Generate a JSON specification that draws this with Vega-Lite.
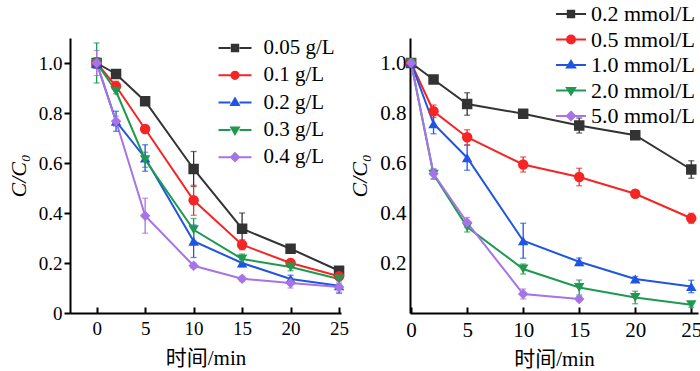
{
  "$schema": "https://vega.github.io/schema/vega-lite/v6.json",
  "background": "white",
  "padding": {"left": 7, "top": 3, "right": 0, "bottom": 0},
  "bounds": "flush",
  "spacing": 69,
  "config": {
    "view": {"stroke": null},
    "font": "Liberation Serif",
    "axis": {
      "grid": false,
      "domainColor": "#000000",
      "domainWidth": 2,
      "tickColor": "#000000",
      "tickWidth": 2,
      "labelColor": "#000000",
      "titleColor": "#000000",
      "labelFont": "Liberation Serif",
      "titleFont": "Liberation Serif, Noto Sans CJK SC",
      "titleFontWeight": "normal"
    },
    "legend": {
      "labelFont": "Liberation Serif",
      "labelColor": "#000000",
      "padding": 0,
      "title": null
    }
  },
  "datasets": {
    "a": [
      {"t": 0, "v": 1.0, "e": 0.01, "s": "0.05 g/L"},
      {"t": 2, "v": 0.956, "e": 0.01, "s": "0.05 g/L"},
      {"t": 5, "v": 0.847, "e": 0.01, "s": "0.05 g/L"},
      {"t": 10, "v": 0.576, "e": 0.07, "s": "0.05 g/L"},
      {"t": 15, "v": 0.337, "e": 0.063, "s": "0.05 g/L"},
      {"t": 20, "v": 0.257, "e": 0.01, "s": "0.05 g/L"},
      {"t": 25, "v": 0.169, "e": 0.01, "s": "0.05 g/L"},
      {"t": 0, "v": 1.0, "e": 0.02, "s": "0.1 g/L"},
      {"t": 2, "v": 0.907, "e": 0.02, "s": "0.1 g/L"},
      {"t": 5, "v": 0.736, "e": 0.015, "s": "0.1 g/L"},
      {"t": 10, "v": 0.451, "e": 0.06, "s": "0.1 g/L"},
      {"t": 15, "v": 0.273, "e": 0.02, "s": "0.1 g/L"},
      {"t": 20, "v": 0.2, "e": 0.015, "s": "0.1 g/L"},
      {"t": 25, "v": 0.147, "e": 0.01, "s": "0.1 g/L"},
      {"t": 0, "v": 1.0, "e": 0.02, "s": "0.2 g/L"},
      {"t": 2, "v": 0.767, "e": 0.04, "s": "0.2 g/L"},
      {"t": 5, "v": 0.62, "e": 0.053, "s": "0.2 g/L"},
      {"t": 10, "v": 0.287, "e": 0.065, "s": "0.2 g/L"},
      {"t": 15, "v": 0.2, "e": 0.015, "s": "0.2 g/L"},
      {"t": 20, "v": 0.136, "e": 0.015, "s": "0.2 g/L"},
      {"t": 25, "v": 0.109, "e": 0.03, "s": "0.2 g/L"},
      {"t": 0, "v": 1.0, "e": 0.08, "s": "0.3 g/L"},
      {"t": 2, "v": 0.887, "e": 0.01, "s": "0.3 g/L"},
      {"t": 5, "v": 0.613, "e": 0.03, "s": "0.3 g/L"},
      {"t": 10, "v": 0.333, "e": 0.045, "s": "0.3 g/L"},
      {"t": 15, "v": 0.216, "e": 0.02, "s": "0.3 g/L"},
      {"t": 20, "v": 0.184, "e": 0.015, "s": "0.3 g/L"},
      {"t": 25, "v": 0.136, "e": 0.02, "s": "0.3 g/L"},
      {"t": 0, "v": 1.0, "e": 0.05, "s": "0.4 g/L"},
      {"t": 2, "v": 0.767, "e": 0.02, "s": "0.4 g/L"},
      {"t": 5, "v": 0.389, "e": 0.07, "s": "0.4 g/L"},
      {"t": 10, "v": 0.189, "e": 0.01, "s": "0.4 g/L"},
      {"t": 15, "v": 0.137, "e": 0.01, "s": "0.4 g/L"},
      {"t": 20, "v": 0.12, "e": 0.02, "s": "0.4 g/L"},
      {"t": 25, "v": 0.104, "e": 0.02, "s": "0.4 g/L"}
    ],
    "b": [
      {"t": 0, "v": 1.0, "e": 0.01, "s": "0.2 mmol/L"},
      {"t": 2, "v": 0.934, "e": 0.015, "s": "0.2 mmol/L"},
      {"t": 5, "v": 0.836, "e": 0.045, "s": "0.2 mmol/L"},
      {"t": 10, "v": 0.797, "e": 0.01, "s": "0.2 mmol/L"},
      {"t": 15, "v": 0.75, "e": 0.03, "s": "0.2 mmol/L"},
      {"t": 20, "v": 0.711, "e": 0.01, "s": "0.2 mmol/L"},
      {"t": 25, "v": 0.574, "e": 0.035, "s": "0.2 mmol/L"},
      {"t": 0, "v": 1.0, "e": 0.01, "s": "0.5 mmol/L"},
      {"t": 2, "v": 0.807, "e": 0.025, "s": "0.5 mmol/L"},
      {"t": 5, "v": 0.703, "e": 0.03, "s": "0.5 mmol/L"},
      {"t": 10, "v": 0.594, "e": 0.03, "s": "0.5 mmol/L"},
      {"t": 15, "v": 0.544, "e": 0.035, "s": "0.5 mmol/L"},
      {"t": 20, "v": 0.477, "e": 0.015, "s": "0.5 mmol/L"},
      {"t": 25, "v": 0.379, "e": 0.02, "s": "0.5 mmol/L"},
      {"t": 0, "v": 1.0, "e": 0.01, "s": "1.0 mmol/L"},
      {"t": 2, "v": 0.757, "e": 0.04, "s": "1.0 mmol/L"},
      {"t": 5, "v": 0.621, "e": 0.05, "s": "1.0 mmol/L"},
      {"t": 10, "v": 0.289, "e": 0.07, "s": "1.0 mmol/L"},
      {"t": 15, "v": 0.205, "e": 0.015, "s": "1.0 mmol/L"},
      {"t": 20, "v": 0.136, "e": 0.01, "s": "1.0 mmol/L"},
      {"t": 25, "v": 0.106, "e": 0.025, "s": "1.0 mmol/L"},
      {"t": 0, "v": 1.0, "e": 0.01, "s": "2.0 mmol/L"},
      {"t": 2, "v": 0.555, "e": 0.02, "s": "2.0 mmol/L"},
      {"t": 5, "v": 0.344, "e": 0.02, "s": "2.0 mmol/L"},
      {"t": 10, "v": 0.176, "e": 0.02, "s": "2.0 mmol/L"},
      {"t": 15, "v": 0.102, "e": 0.03, "s": "2.0 mmol/L"},
      {"t": 20, "v": 0.062, "e": 0.025, "s": "2.0 mmol/L"},
      {"t": 25, "v": 0.033, "e": 0.01, "s": "2.0 mmol/L"},
      {"t": 0, "v": 1.0, "e": 0.01, "s": "5.0 mmol/L"},
      {"t": 2, "v": 0.557, "e": 0.02, "s": "5.0 mmol/L"},
      {"t": 5, "v": 0.362, "e": 0.02, "s": "5.0 mmol/L"},
      {"t": 10, "v": 0.076, "e": 0.02, "s": "5.0 mmol/L"},
      {"t": 15, "v": 0.056, "e": 0.01, "s": "5.0 mmol/L"}
    ]
  },
  "resolve": {"scale": {"color": "independent", "shape": "independent", "fill": "independent", "stroke": "independent", "x": "independent", "y": "independent"}},
  "hconcat": [
    {
      "width": 271,
      "height": 275,
      "data": {"name": "a"},
      "encoding": {
        "x": {"field": "t", "type": "quantitative", "scale": {"domain": [-2.75, 25.2], "nice": false, "zero": false},
          "axis": {"values": [0, 5, 10, 15, 20, 25], "tickSize": -6, "labelFontSize": 19, "labelPadding": 12, "title": "时间/min", "titleFontSize": 21, "titlePadding": 9, "labelFlush": false}},
        "y": {"field": "v", "type": "quantitative", "scale": {"domain": [0, 1.1], "nice": false},
          "axis": {"values": [0, 0.2, 0.4, 0.6, 0.8, 1.0], "tickSize": 6, "labelFontSize": 19, "labelPadding": 2, "labelExpr": "datum.value == 0 ? '0' : format(datum.value, '.1f')", "title": "C/C₀", "titleFontStyle": "italic", "titleFontSize": 22, "titlePadding": 8, "labelFlush": false}}
      },
      "layer": [
        {
          "mark": {"type": "point", "filled": true, "size": 1, "strokeWidth": 2, "opacity": 1},
          "encoding": {
            "fill": {"field": "s", "type": "nominal",
              "scale": {"domain": ["0.05 g/L", "0.1 g/L", "0.2 g/L", "0.3 g/L", "0.4 g/L"], "range": ["#333333", "#f52525", "#1f55e0", "#1e9a50", "#a674e6"]},
              "legend": {"orient": "none", "legendX": 154, "legendY": -1, "labelFontSize": 21, "labelOffset": 17.5, "rowPadding": 6.3, "symbolSize": 400, "symbolStrokeWidth": 2}},
            "stroke": {"field": "s", "type": "nominal",
              "scale": {"domain": ["0.05 g/L", "0.1 g/L", "0.2 g/L", "0.3 g/L", "0.4 g/L"], "range": ["#333333", "#f52525", "#1f55e0", "#1e9a50", "#a674e6"]},
              "legend": {"orient": "none", "legendX": 154, "legendY": -1, "labelFontSize": 21, "labelOffset": 17.5, "rowPadding": 6.3, "symbolSize": 400, "symbolStrokeWidth": 2}},
            "shape": {"field": "s", "type": "nominal",
              "scale": {"domain": ["0.05 g/L", "0.1 g/L", "0.2 g/L", "0.3 g/L", "0.4 g/L"], "range": [
                "M-1.65,0H-0.45M0.45,0H1.65M-0.32,-0.32H0.32V0.32H-0.32Z",
                "M-1.65,0H-0.45M0.45,0H1.65M0.36,0A0.36,0.36,0,1,1,-0.36,0A0.36,0.36,0,1,1,0.36,0Z",
                "M-1.65,0H-0.45M0.45,0H1.65M0,-0.4L0.38,0.25L-0.38,0.25Z",
                "M-1.65,0H-0.45M0.45,0H1.65M0,0.4L0.38,-0.25L-0.38,-0.25Z",
                "M-1.65,0H-0.45M0.45,0H1.65M0,-0.4L0.4,0L0,0.4L-0.4,0Z"]},
              "legend": {"orient": "none", "legendX": 154, "legendY": -1, "labelFontSize": 21, "labelOffset": 17.5, "rowPadding": 6.3, "symbolSize": 400, "symbolStrokeWidth": 2}}
          }
        },
        {"mark": {"type": "line", "strokeWidth": 2},
          "encoding": {"color": {"field": "s", "type": "nominal", "legend": null,
            "scale": {"domain": ["0.05 g/L", "0.1 g/L", "0.2 g/L", "0.3 g/L", "0.4 g/L"], "range": ["#333333", "#f52525", "#1f55e0", "#1e9a50", "#a674e6"]}}}},
        {"mark": {"type": "errorbar", "ticks": {"size": 6}, "thickness": 1.3},
          "encoding": {"yError": {"field": "e"}, "color": {"field": "s", "type": "nominal", "legend": null}}},
        {"transform": [{"filter": "datum.s == '0.05 g/L'"}], "mark": {"type": "point", "filled": true, "opacity": 1, "size": 110, "shape": "square", "color": "#333333"}},
        {"transform": [{"filter": "datum.s == '0.1 g/L'"}], "mark": {"type": "point", "filled": true, "opacity": 1, "size": 110, "shape": "circle", "color": "#f52525"}},
        {"transform": [{"filter": "datum.s == '0.2 g/L'"}], "mark": {"type": "point", "filled": true, "opacity": 1, "size": 110, "shape": "triangle-up", "color": "#1f55e0"}},
        {"transform": [{"filter": "datum.s == '0.3 g/L'"}], "mark": {"type": "point", "filled": true, "opacity": 1, "size": 110, "shape": "triangle-down", "color": "#1e9a50"}},
        {"transform": [{"filter": "datum.s == '0.4 g/L'"}], "mark": {"type": "point", "filled": true, "opacity": 1, "size": 110, "shape": "diamond", "color": "#a674e6"}}
      ]
    },
    {
      "width": 288,
      "height": 275,
      "data": {"name": "b"},
      "encoding": {
        "x": {"field": "t", "type": "quantitative", "scale": {"domain": [-0.1, 25.6], "nice": false, "zero": false},
          "axis": {"values": [0, 5, 10, 15, 20, 25], "tickSize": -6, "labelFontSize": 21, "labelPadding": 12, "title": "时间/min", "titleFontSize": 21, "titlePadding": 8, "labelFlush": false}},
        "y": {"field": "v", "type": "quantitative", "scale": {"domain": [0, 1.1], "nice": false},
          "axis": {"values": [0.2, 0.4, 0.6, 0.8, 1.0], "tickSize": 0, "labelFontSize": 21, "labelPadding": 4, "format": ".1f", "title": "C/C₀", "titleFontStyle": "italic", "titleFontSize": 22, "titlePadding": 8, "labelFlush": false}}
      },
      "layer": [
        {
          "mark": {"type": "point", "filled": true, "size": 1, "strokeWidth": 2, "opacity": 1},
          "encoding": {
            "fill": {"field": "s", "type": "nominal",
              "scale": {"domain": ["0.2 mmol/L", "0.5 mmol/L", "1.0 mmol/L", "2.0 mmol/L", "5.0 mmol/L"], "range": ["#333333", "#f52525", "#1f55e0", "#1e9a50", "#a674e6"]},
              "legend": {"orient": "none", "legendX": 150, "legendY": -35, "labelFontSize": 22, "labelOffset": 9, "rowPadding": 3.5, "symbolSize": 400, "symbolStrokeWidth": 2}},
            "stroke": {"field": "s", "type": "nominal",
              "scale": {"domain": ["0.2 mmol/L", "0.5 mmol/L", "1.0 mmol/L", "2.0 mmol/L", "5.0 mmol/L"], "range": ["#333333", "#f52525", "#1f55e0", "#1e9a50", "#a674e6"]},
              "legend": {"orient": "none", "legendX": 150, "legendY": -35, "labelFontSize": 22, "labelOffset": 9, "rowPadding": 3.5, "symbolSize": 400, "symbolStrokeWidth": 2}},
            "shape": {"field": "s", "type": "nominal",
              "scale": {"domain": ["0.2 mmol/L", "0.5 mmol/L", "1.0 mmol/L", "2.0 mmol/L", "5.0 mmol/L"], "range": [
                "M-1.5,0H1.5M-0.32,-0.32H0.32V0.32H-0.32Z",
                "M-1.5,0H1.5M0.4,0A0.4,0.4,0,1,1,-0.4,0A0.4,0.4,0,1,1,0.4,0Z",
                "M-1.5,0H1.5M0,-0.4L0.4,0.25L-0.4,0.25Z",
                "M-1.5,0H1.5M0,0.4L0.4,-0.25L-0.4,-0.25Z",
                "M-1.5,0H1.5M0,-0.42L0.42,0L0,0.42L-0.42,0Z"]},
              "legend": {"orient": "none", "legendX": 150, "legendY": -35, "labelFontSize": 22, "labelOffset": 9, "rowPadding": 3.5, "symbolSize": 400, "symbolStrokeWidth": 2}}
          }
        },
        {"mark": {"type": "line", "strokeWidth": 2},
          "encoding": {"color": {"field": "s", "type": "nominal", "legend": null,
            "scale": {"domain": ["0.2 mmol/L", "0.5 mmol/L", "1.0 mmol/L", "2.0 mmol/L", "5.0 mmol/L"], "range": ["#333333", "#f52525", "#1f55e0", "#1e9a50", "#a674e6"]}}}},
        {"mark": {"type": "errorbar", "ticks": {"size": 6}, "thickness": 1.3},
          "encoding": {"yError": {"field": "e"}, "color": {"field": "s", "type": "nominal", "legend": null}}},
        {"transform": [{"filter": "datum.s == '0.2 mmol/L'"}], "mark": {"type": "point", "filled": true, "opacity": 1, "size": 110, "shape": "square", "color": "#333333"}},
        {"transform": [{"filter": "datum.s == '0.5 mmol/L'"}], "mark": {"type": "point", "filled": true, "opacity": 1, "size": 110, "shape": "circle", "color": "#f52525"}},
        {"transform": [{"filter": "datum.s == '1.0 mmol/L'"}], "mark": {"type": "point", "filled": true, "opacity": 1, "size": 110, "shape": "triangle-up", "color": "#1f55e0"}},
        {"transform": [{"filter": "datum.s == '2.0 mmol/L'"}], "mark": {"type": "point", "filled": true, "opacity": 1, "size": 110, "shape": "triangle-down", "color": "#1e9a50"}},
        {"transform": [{"filter": "datum.s == '5.0 mmol/L'"}], "mark": {"type": "point", "filled": true, "opacity": 1, "size": 110, "shape": "diamond", "color": "#a674e6"}}
      ]
    }
  ]
}
